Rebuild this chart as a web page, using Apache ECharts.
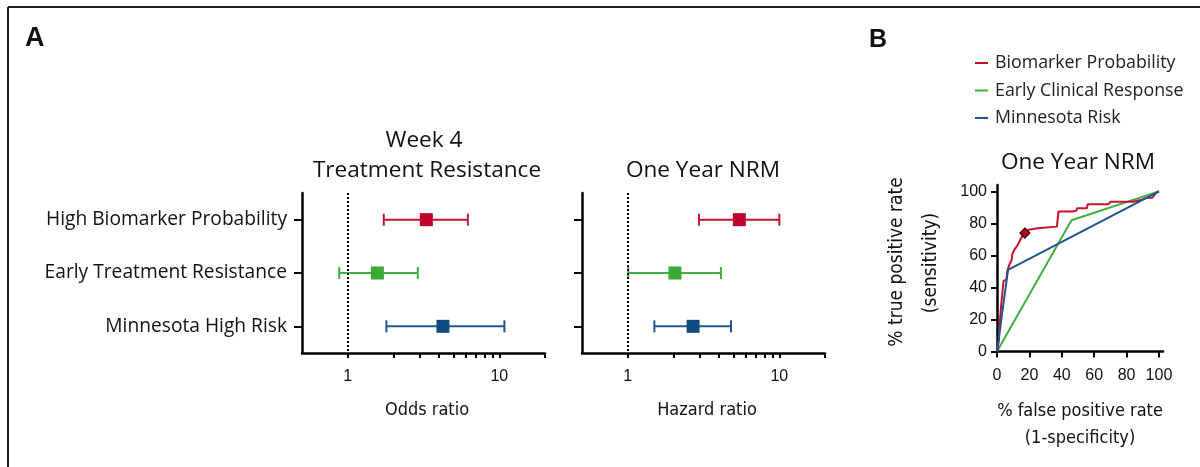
<!DOCTYPE html>
<html>
<head>
<meta charset="utf-8">
<script src="https://cdn.jsdelivr.net/npm/echarts@6/dist/echarts.min.js"></script>
<style>
html,body{margin:0;padding:0;background:#fff;}
#chart{width:1200px;height:467px;}
</style>
</head>
<body>
<div id="chart"></div>
<script>
// ---------- data ----------
const categories = ['High Biomarker Probability', 'Early Treatment Resistance', 'Minnesota High Risk'];
const catColors = ['#c8102e', '#3db042', '#1f5591'];
const markColors = ['#c0002a', '#3aa935', '#0f4a80'];
// Week 4 treatment resistance: odds ratios with 95% CI
const oddsRatio = [3.3, 1.57, 4.25];
const oddsLow = [1.73, 0.88, 1.8];
const oddsHigh = [6.2, 2.9, 10.8];
// One year NRM: hazard ratios with 95% CI
const hazardRatio = [5.45, 2.05, 2.7];
const hazardLow = [2.95, 1.01, 1.5];
const hazardHigh = [10.0, 4.12, 4.8];
// log-axis ticks
const logTicks = [1, 2, 3, 4, 5, 6, 7, 8, 9, 10, 20];
const logLabels = [1, 10];
// ROC curves (% false positive rate, % true positive rate)
const rocNames = ['Biomarker Probability', 'Early Clinical Response', 'Minnesota Risk'];
const rocBiomarker = [[0,0],[1.2,7],[1.5,15],[2.2,15],[2.5,28],[3.5,29],[4,44],[5.8,45],[6.5,51],[7.5,52],[8,55],[9,57],[9.5,61],[10.5,62],[11,64],[12,65],[12.5,66],[13.5,67],[14,69],[15,70],[15.5,72],[16.5,73],[17.2,74],[18,75],[19.5,76],[20.5,77],[25,77],[26,78],[37,78],[37.5,83],[38,87.5],[47,87.5],[49,88],[49.5,89.5],[55.5,89.5],[56,92],[69,92],[70,93.5],[84,93.5],[90,95],[92,96],[96,96],[98,99],[100,100]];
const rocClinical = [[0,0],[46,82],[100,100]];
const rocMinnesota = [[0,0],[6.8,51],[100,100]];
const rocCutoff = [[17.2, 74]];
const rocTicks = [0, 20, 40, 60, 80, 100];

// ---------- chart ----------
const chart = echarts.init(document.getElementById('chart'), null, {renderer: 'canvas'});
const SANS = '"Open Sans", "Noto Sans", sans-serif';
const ARIAL = '"Liberation Sans", Arial, sans-serif';
const NARROW = '"Liberation Sans Narrow", "DejaVu Sans Condensed", "Liberation Sans", sans-serif';

function errBarSeries(low, high, xIdx) {
  const data = categories.map((c, i) => [low[i], high[i], i]);
  return {
    type: 'custom', xAxisIndex: xIdx, yAxisIndex: xIdx, data: data, silent: true, z: 3,
    encode: {x: [0, 1], y: 2},
    renderItem: function (params, api) {
      const i = api.value(2);
      const p1 = api.coord([api.value(0), i]);
      const p2 = api.coord([api.value(1), i]);
      const h = 6;
      const st = {stroke: catColors[i], lineWidth: 2};
      return {type: 'group', children: [
        {type: 'line', shape: {x1: p1[0], y1: p1[1], x2: p2[0], y2: p2[1]}, style: st},
        {type: 'line', shape: {x1: p1[0], y1: p1[1] - h, x2: p1[0], y2: p1[1] + h}, style: st},
        {type: 'line', shape: {x1: p2[0], y1: p2[1] - h, x2: p2[0], y2: p2[1] + h}, style: st}
      ]};
    }
  };
}
function pointSeries(vals, xIdx) {
  return {
    type: 'scatter', xAxisIndex: xIdx, yAxisIndex: xIdx, symbol: 'rect', symbolSize: 13, z: 4,
    data: vals.map((v, i) => ({value: [v, i], itemStyle: {color: markColors[i], opacity: 1}})),
    itemStyle: {opacity: 1},
    markLine: {
      silent: true, symbol: 'none', label: {show: false},
      lineStyle: {type: [2, 2], color: '#000', width: 2},
      data: [{xAxis: 1}]
    }
  };
}
function logX(idx) {
  return {
    type: 'log', logBase: 10, gridIndex: idx, min: 0.5, max: 20,
    axisLine: {show: true, onZero: false, lineStyle: {color: '#000', width: 2.5}},
    axisTick: {show: true, customValues: logTicks, length: 5, lineStyle: {color: '#000', width: 2}},
    axisLabel: {show: true, customValues: logLabels, color: '#111', fontSize: 16, fontFamily: ARIAL, margin: 16},
    splitLine: {show: false}, minorTick: {show: false}
  };
}
function catY(idx, showLabels) {
  return {
    type: 'category', gridIndex: idx, data: categories, inverse: true, boundaryGap: true,
    axisLine: {show: true, onZero: false, lineStyle: {color: '#000', width: 2.5}},
    axisTick: {show: true, alignWithLabel: true, length: 8, lineStyle: {color: '#000', width: 2}},
    axisLabel: {show: showLabels, color: '#111', fontSize: 19.2, fontFamily: SANS, margin: 15},
    splitLine: {show: false}
  };
}
function rocLine(name, data, color, z) {
  return {
    name: name, type: 'line', xAxisIndex: 2, yAxisIndex: 2, data: data, showSymbol: false,
    lineStyle: {color: color, width: 2}, itemStyle: {color: color}, z: z, silent: true
  };
}
function txt(text, x, y, font, align, rot) {
  return {type: 'text', x: x, y: y, rotation: rot || 0,
    style: {text: text, font: font, fill: '#111', textAlign: align || 'center', textVerticalAlign: 'middle'}};
}

const option = {
  backgroundColor: '#fff',
  animation: false,
  grid: [
    {left: 302, top: 193, width: 243, height: 160},
    {left: 582, top: 193, width: 243, height: 160},
    {left: 997, top: 185, width: 166, height: 166.5}
  ],
  xAxis: [
    logX(0), logX(1),
    {type: 'value', gridIndex: 2, min: 0, max: 102.5,
      axisLine: {show: true, onZero: false, lineStyle: {color: '#000', width: 2.5}},
      axisTick: {show: true, customValues: rocTicks, length: 6, lineStyle: {color: '#000', width: 2}},
      axisLabel: {customValues: rocTicks, color: '#111', fontSize: 16, fontFamily: ARIAL, margin: 16},
      splitLine: {show: false}}
  ],
  yAxis: [
    catY(0, true), catY(1, false),
    {type: 'value', gridIndex: 2, min: 0, max: 104,
      axisLine: {show: true, onZero: false, lineStyle: {color: '#000', width: 2.5}},
      axisTick: {show: true, customValues: rocTicks, length: 6, lineStyle: {color: '#000', width: 2}},
      axisLabel: {customValues: rocTicks, color: '#111', fontSize: 16, fontFamily: ARIAL, margin: 10},
      splitLine: {show: false}}
  ],
  legend: {
    orient: 'vertical', left: 975, top: 54, padding: 0, data: rocNames, icon: 'rect',
    itemWidth: 13, itemHeight: 2, itemGap: 9.5,
    textStyle: {fontSize: 17.8, fontFamily: SANS, color: '#222', lineHeight: 18, padding: [0, 0, 0, 2]},
    selectedMode: false
  },
  series: [
    errBarSeries(oddsLow, oddsHigh, 0),
    pointSeries(oddsRatio, 0),
    errBarSeries(hazardLow, hazardHigh, 1),
    pointSeries(hazardRatio, 1),
    rocLine(rocNames[1], rocClinical, '#3db042', 2),
    rocLine(rocNames[2], rocMinnesota, '#1f5591', 3),
    rocLine(rocNames[0], rocBiomarker, '#c8102e', 2.5),
    {type: 'scatter', xAxisIndex: 2, yAxisIndex: 2, data: rocCutoff, symbol: 'diamond', symbolSize: 10, z: 5,
      itemStyle: {color: '#b0001f', borderColor: '#3a0000', borderWidth: 1.2, opacity: 1}, silent: true}
  ],
  graphic: [
    {type: 'line', shape: {x1: 8, y1: 7, x2: 1200, y2: 7}, style: {stroke: '#222', lineWidth: 2}},
    {type: 'line', shape: {x1: 8, y1: 7, x2: 8, y2: 467}, style: {stroke: '#222', lineWidth: 2}},
    txt('A', 25, 39, 'bold 27px ' + ARIAL, 'left'),
    txt('B', 869, 40, 'bold 25px ' + ARIAL, 'left'),
    txt('Week 4', 424, 141, '22.6px ' + SANS),
    txt('Treatment Resistance', 427, 171, '22.6px ' + SANS),
    txt('One Year NRM', 703, 171, '22.6px ' + SANS),
    txt('One Year NRM', 1078, 163, '22.6px ' + SANS),
    txt('Odds ratio', 427, 410, '18px ' + NARROW),
    txt('Hazard ratio', 707, 410, '18px ' + NARROW),
    txt('% false positive rate', 1080, 411, '18px ' + NARROW),
    txt('(1-specificity)', 1080, 438, '18px ' + NARROW),
    txt('% true positive rate', 897, 262, '19px ' + NARROW, 'center', Math.PI / 2),
    txt('(sensitivity)', 931, 263, '19px ' + NARROW, 'center', Math.PI / 2)
  ]
};
chart.setOption(option);
</script>
</body>
</html>
